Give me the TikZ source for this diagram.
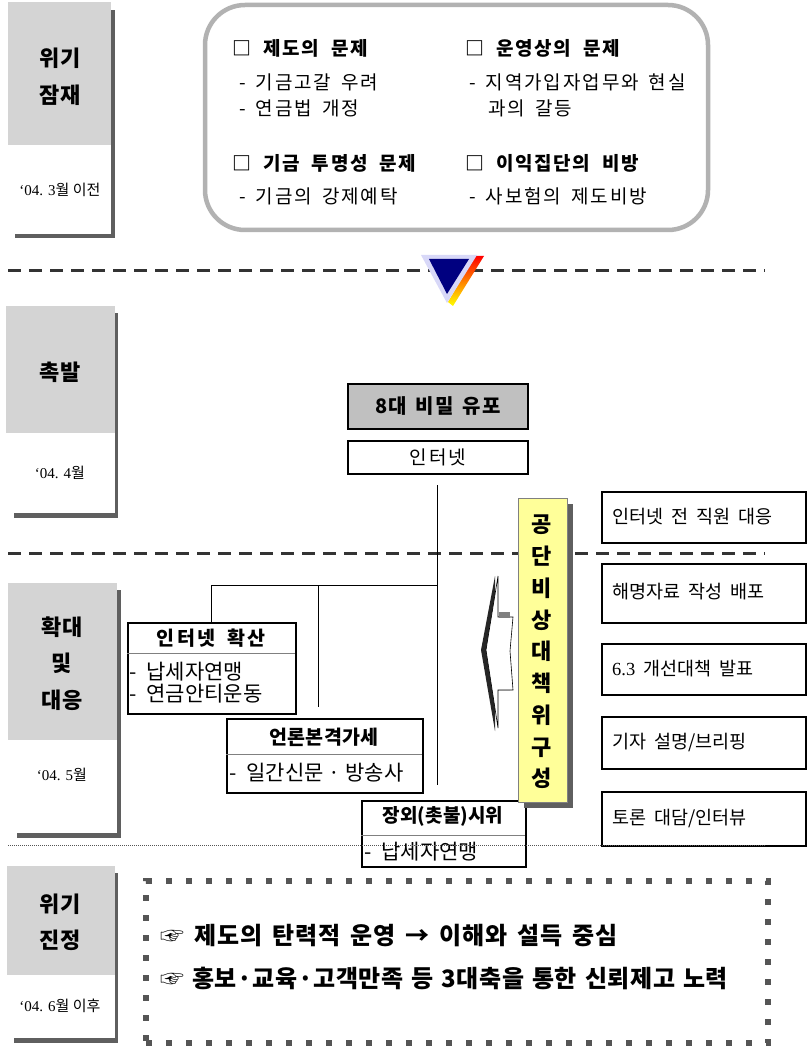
\documentclass[tikz,border=0pt]{standalone}
\usepackage{fontspec}
\setmainfont{Noto Sans CJK KR}
\newfontfamily\lser{Liberation Serif}
\newcommand\fsz[1]{\fontsize{#1}{#1}\selectfont}
\newcommand\lsp[1]{\addfontfeature{LetterSpace=#1}}
\newcommand\wsp[1]{\spaceskip=#1pt\relax}
\definecolor{stagegray}{HTML}{D4D4D4}
\definecolor{shadowgray}{HTML}{5F5F5F}
\definecolor{boxgray}{HTML}{C0C0C0}
\definecolor{roundgray}{HTML}{B2B2B2}
\definecolor{dashgray}{HTML}{333333}
\definecolor{dotgray}{HTML}{555555}
\definecolor{paleyellow}{HTML}{FFFF99}
\definecolor{lavender}{HTML}{D8D8F8}
\definecolor{navy}{HTML}{000080}
\tikzset{
  stagelbl/.style={font=\fsz{22}\bfseries},
  datelbl/.style={font=\fsz{15}},
  hdr/.style={anchor=west, inner sep=0pt, font=\fsz{19}\bfseries\lsp{9}\wsp{12}},
  itm/.style={anchor=west, inner sep=0pt, font=\fsz{19}\lsp{10}\wsp{10}},
  sep/.style={dashgray, line width=3pt, dash pattern=on 13pt off 8pt},
  conn/.style={black, line width=1pt},
  rbox/.style={draw=black, line width=1.6pt, anchor=north west, minimum width=204pt, inner sep=0pt},
  rtxt/.style={anchor=west, inner sep=0pt, font=\fsz{18.5}\wsp{8}},
  cbox/.style={draw=black, line width=1.6pt, fill=white, anchor=north west, inner sep=0pt},
  ctitle/.style={inner sep=0pt, font=\fsz{19.5}\bfseries\lsp{11}\wsp{12}},
  citem/.style={anchor=west, inner sep=0pt, font=\fsz{21}\wsp{10}},
  divider/.style={gray, line width=0.8pt},
}
\begin{document}
\begin{tikzpicture}[x=1pt,y=-1pt]
\useasboundingbox (0,0) rectangle (809,1048);
\fill[white] (0,0) rectangle (809,1048);

% ---------- stage boxes ----------
\fill[shadowgray] (15,10) rectangle (115,238);
\fill[stagegray] (8,2) rectangle (111,145);
\fill[white] (8,145) rectangle (111,234);
\node[stagelbl] (s1a) at (60,58) {위기};
\node[stagelbl] (s1b) at (60,95) {잠재};
\node[datelbl] (s1d) at (60,190) {{\lser ‘04. 3}월 이전};

\fill[shadowgray] (14,313) rectangle (118,518);
\fill[stagegray] (6,306) rectangle (115,433);
\fill[white] (6,433) rectangle (115,513);
\node[stagelbl] (s2a) at (60,372) {촉발};
\node[datelbl] (s2d) at (60,473) {{\lser ‘04. 4}월};

\fill[shadowgray] (17,590) rectangle (121,838);
\fill[stagegray] (8,583) rectangle (117,740);
\fill[white] (8,740) rectangle (117,833);
\node[stagelbl] (s3a) at (62,627) {확대};
\node[stagelbl] (s3b) at (62,663) {및};
\node[stagelbl] (s3c) at (62,700) {대응};
\node[datelbl] (s3d) at (62,775) {{\lser ‘04. 5}월};

\fill[shadowgray] (14,873) rectangle (118,1043);
\fill[stagegray] (7,866) rectangle (115,975);
\fill[white] (7,975) rectangle (115,1038);
\node[stagelbl] (s4a) at (60,904) {위기};
\node[stagelbl] (s4b) at (60,940) {진정};
\node[datelbl] (s4d) at (60,1006) {{\lser ‘04. 6}월 이후};

% ---------- top rounded box ----------
\draw[roundgray, line width=4.5pt, rounded corners=40pt] (205,5) rectangle (708,230);
\node[hdr] (h1) at (232,48) {□ 제도의 문제};
\node[itm] (h1a) at (239,82) {- 기금고갈 우려};
\node[itm] (h1b) at (239,108) {- 연금법 개정};
\node[hdr] (h2) at (232,163) {□ 기금 투명성 문제};
\node[itm] (h2a) at (239,196) {- 기금의 강제예탁};
\node[hdr] (h3) at (465,48) {□ 운영상의 문제};
\node[itm] (h3a) at (469,82) {- 지역가입자업무와 현실};
\node[itm] (h3b) at (488,108) {과의 갈등};
\node[hdr] (h4) at (465,163) {□ 이익집단의 비방};
\node[itm] (h4a) at (469,196) {- 사보험의 제도비방};

% ---------- separators ----------
\coordinate (sepAl) at (8,271);  \coordinate (sepAr) at (765,271);
\coordinate (sepBl) at (8,553);  \coordinate (sepBr) at (765,553);
\draw[sep] (sepAl) -- (sepAr);
\draw[sep] (sepBl) -- (sepBr);

% triangle marker
\shade[top color=red, bottom color=yellow, middle color=orange] (475,256) -- (484,256) -- (453,306) -- (448,302) -- cycle;
\fill[lavender] (421,255) -- (477,255) -- (447,303) -- cycle;
\fill[navy] (429,259) -- (469,259) -- (447,294) -- cycle;

% ---------- middle: leak ----------
\node[draw=black, line width=2pt, fill=boxgray, anchor=north west, minimum width=180pt, minimum height=45pt, inner sep=0pt] (leak) at (347,383) {};
\node[font=\fsz{20}\bfseries\lsp{6}\wsp{9}] (leakt) at (leak.center) {8대 비밀 유포};
\node[draw=black, line width=1.6pt, anchor=north west, minimum width=180pt, minimum height=33pt, inner sep=0pt] (inet) at (347,440) {};
\node[font=\fsz{19}\lsp{10}] (inett) at (inet.center) {인터넷};

% content boxes
\fill[black] (129,624) rectangle (297,715);
\node[cbox, minimum width=168pt, minimum height=91pt] (spread) at (127,622) {};
\draw[divider] (127,653) -- (295,653);
\node[ctitle] (spreadt) at (211,638) {인터넷 확산};
\node[citem] (spread1) at (129,672) {- 납세자연맹};
\node[citem] (spread2) at (129,694) {- 연금안티운동};

\fill[black] (228,720) rectangle (424,794);
\node[cbox, minimum width=196pt, minimum height=74pt] (press) at (226,718) {};
\draw[divider] (226,754) -- (422,754);
\node[ctitle, font=\fsz{19.5}\bfseries\lsp{2}] (presst) at (324,737) {언론본격가세};
\node[citem] (press1) at (229,773) {-\hspace{10pt}일간신문\hspace{5pt}·\hspace{5pt}방송사};

\fill[black] (363,802) rectangle (527,868);
\node[cbox, minimum width=164pt, minimum height=66pt] (rally) at (361,800) {};
\draw[divider] (361,835) -- (525,835);
\node[ctitle, font=\fsz{19}\bfseries] (rallyt) at (443,816) {장외(촛불)시위};
\node[citem] (rally1) at (364,852) {- 납세자연맹};

% connectors
\coordinate (jtop) at (437,485);
\coordinate (jmid) at (437,585);
\coordinate (jbot) at (437,785);
\coordinate (kmid) at (318,585);
\coordinate (kbot) at (318,707);
\draw[conn] (jtop) -- (jbot);
\draw[conn] (jmid) -| (spread.north);
\draw[conn] (kmid) -- (kbot);

% block arrow
\fill[black!85] (495,576) -- (481,650) -- (495,731) -- (495,690) -- (510,690) -- (507,651) -- (510,617) -- (495,617) -- cycle;
\draw[black, line width=0.6pt, fill=white] (498,576) -- (486,650) -- (498,728) -- (498,690) -- (513,690) -- (510,651) -- (513,617) -- (498,617) -- cycle;
\fill[gray] (499,612) rectangle (510,618);

% yellow committee box
\fill[shadowgray] (524,504) rectangle (573,808);
\node[draw=gray, line width=0.8pt, fill=paleyellow, anchor=north west, minimum width=49pt, minimum height=304pt, inner sep=0pt] (cmte) at (518,498) {};
\node[align=center, font=\fsz{22}\bfseries, inner sep=0pt] (cmtet) at (542,652) {공\\[9.75pt]단\\[9.75pt]비\\[9.75pt]상\\[9.75pt]대\\[9.75pt]책\\[9.75pt]위\\[9.75pt]구\\[9.75pt]성};

% right column boxes
\node[rbox, minimum height=51pt] (r1) at (601,491) {};
\node[rtxt] (r1t) at (612,517) {인터넷 전 직원 대응};
\node[rbox, minimum height=59pt] (r2) at (601,563) {};
\node[rtxt] (r2t) at (612,592) {해명자료 작성 배포};
\node[rbox, minimum height=51pt] (r3) at (601,643) {};
\node[rtxt] (r3t) at (612,669) {{\lser 6.3} 개선대책 발표};
\node[rbox, minimum height=52pt] (r4) at (601,716) {};
\node[rtxt] (r4t) at (612,742) {기자 설명/브리핑};
\node[rbox, minimum height=54pt] (r5) at (601,791) {};
\node[rtxt] (r5t) at (612,818) {토론 대담/인터뷰};

% dotted separator
\coordinate (sepCl) at (8,845); \coordinate (sepCr) at (765,845);
\draw[dotgray, line width=1pt, dash pattern=on 1pt off 1pt] (sepCl) -- (sepCr);

% bottom dotted box
\node[draw=dotgray, line width=6pt, dash pattern=on 6pt off 14pt, anchor=north west, minimum width=622pt, minimum height=162pt, inner sep=0pt] (calm) at (143,878) {};
\node[anchor=west, inner sep=0pt, font=\fsz{24}\bfseries\lsp{4}\wsp{10}] (calm1) at (160,936) {☞ 제도의 탄력적 운영 → 이해와 설득 중심};
\node[anchor=west, inner sep=0pt, font=\fsz{24}\bfseries\lsp{2.5}\wsp{8}] (calm2) at (160,978) {☞ 홍보·교육·고객만족 등 3대축을 통한 신뢰제고 노력};
\end{tikzpicture}
\end{document}
